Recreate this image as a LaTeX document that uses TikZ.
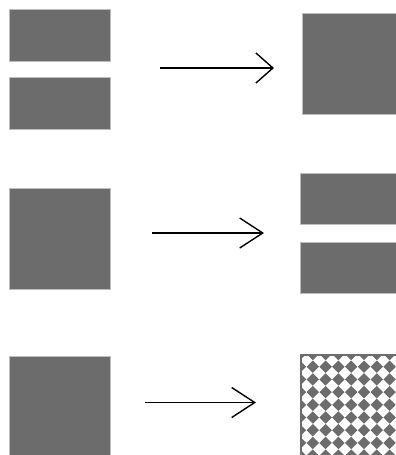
\documentclass[tikz,border=0pt]{standalone}
\usetikzlibrary{arrows.meta}
\definecolor{blockgray}{HTML}{6C6C6C}
\definecolor{edgegray}{HTML}{BDBDBD}
\begin{document}
\begin{tikzpicture}[x=1pt,y=-1pt,
  blk/.style={fill=blockgray, draw=edgegray, line width=0.6pt, inner sep=0pt, outer sep=0pt},
  conn/.style={line width=1.5pt, -{Straight Barb[length=#1, width=30pt, line width=1.4pt]}}]
\clip (0,0) rectangle (396,455);
% row 1
\node[blk, minimum width=101pt, minimum height=52pt] (a1) at (59.5,35) {};
\node[blk, minimum width=101pt, minimum height=52pt] (a2) at (59.5,103.5) {};
\node[blk, minimum width=101pt, minimum height=101pt] (a3) at (352.5,63.5) {};
\coordinate (s1) at (160,68);
\coordinate (e1) at (274,68);
\draw[conn=17pt] (s1) -- (e1);
% row 2
\node[blk, minimum width=101pt, minimum height=101pt] (b1) at (59.5,238.5) {};
\node[blk, minimum width=101pt, minimum height=51pt] (b2) at (350.5,198.5) {};
\node[blk, minimum width=101pt, minimum height=51pt] (b3) at (350.5,267.5) {};
\coordinate (s2) at (152,233);
\coordinate (e2) at (264,233);
\draw[conn=23pt] (s2) -- (e2);
% row 3
\node[blk, minimum width=101pt, minimum height=101pt] (c1) at (59.5,406.5) {};
\coordinate (s3) at (145,402.5);
\coordinate (e3) at (256,402.5);
\draw[conn=23pt] (s3) -- (e3);
% patterned square
\begin{scope}
  \clip (300,354) rectangle (400,460);
  \fill[white] (300,354) rectangle (400,460);
  \foreach \i in {0,...,8}{
    \foreach \j in {0,...,8}{
      \pgfmathsetmacro{\cx}{300+12.8*\i}
      \pgfmathsetmacro{\cy}{354+12.7*\j}
      \fill[blockgray] (\cx,\cy-6.2) -- (\cx+6.2,\cy) -- (\cx,\cy+6.2) -- (\cx-6.2,\cy) -- cycle;
    }
  }
  \fill[blockgray] (300,354) rectangle (400,356.2);
  \fill[blockgray] (300,354) rectangle (302.2,460);
\end{scope}
\end{tikzpicture}
\end{document}
